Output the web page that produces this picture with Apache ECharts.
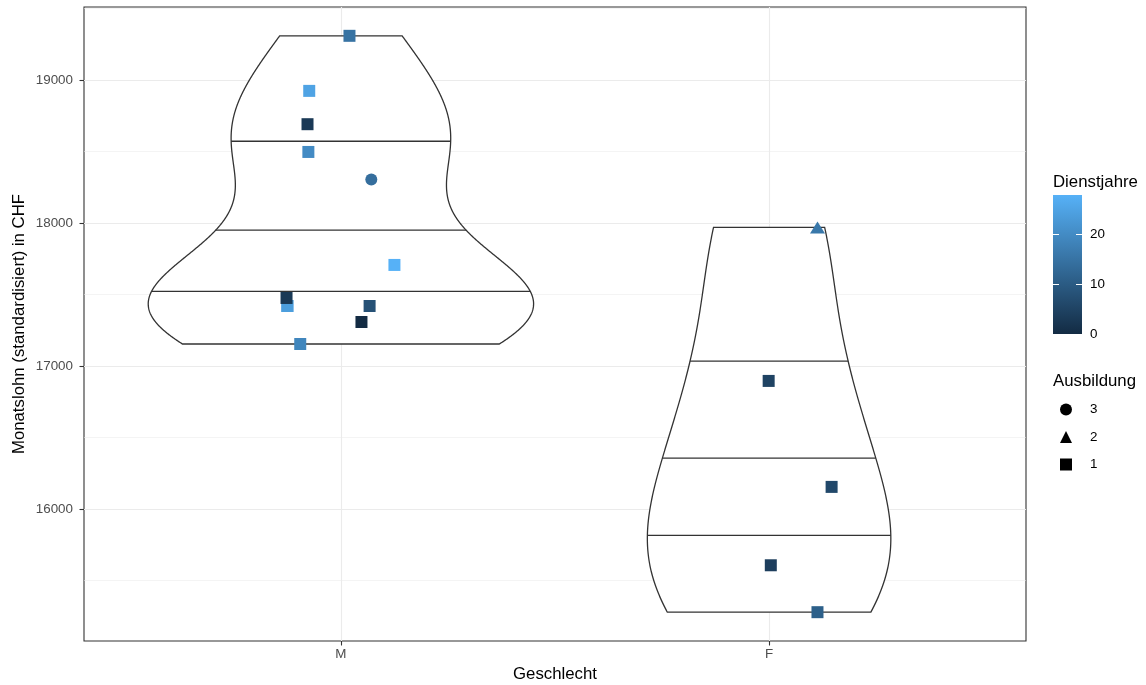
<!DOCTYPE html>
<html><head><meta charset="utf-8">
<script src="https://cdn.jsdelivr.net/npm/echarts@6/dist/echarts.min.js"></script>
<style>html,body{margin:0;padding:0;background:#fff}#chart{width:1146px;height:685px}</style>
</head><body><div id="chart"></div>
<script>
// ---- data ----
const categories = ['M', 'F'];
// M group (one point at 17421 is fully hidden under another, as the violin shape implies)
const lohnM = [19310, 18925, 18692, 18498, 18306, 17708, 17421, 17421, 17477, 17421, 17309, 17155];
const dienstM = [15, 25, 3, 20, 14, 28, 24, 24, 3, 8, 0, 19];
const ausbM = [1, 1, 1, 1, 3, 1, 1, 1, 1, 1, 1, 1];
const jitterM = [0.020, -0.074, -0.078, -0.076, 0.071, 0.125, -0.125, -0.125, -0.127, 0.067, 0.048, -0.095];
const lohnF = [17970, 16897, 16156, 15608, 15280];
const dienstF = [16, 5, 6, 4, 11];
const ausbF = [2, 1, 1, 1, 1];
const jitterF = [0.113, -0.001, 0.146, 0.004, 0.113];
const yTicks = [16000, 17000, 18000, 19000];
const yMinorTicks = [15500, 16500, 17500, 18500, 19500];
const colorTicks = [0, 10, 20];
const ausbLevels = ['3', '2', '1'];
const ausbSymbols = { '3': 'circle', '2': 'triangle', '1': 'rect' };
const quantileProbs = [0.25, 0.5, 0.75];

// ---- statistics (ggplot2 violin: gaussian KDE, bw.nrd0, trim, scale='area') ----
function quantile7(sorted, p) {
  const h = (sorted.length - 1) * p, lo = Math.floor(h), hi = Math.ceil(h);
  return sorted[lo] + (h - lo) * (sorted[hi] - sorted[lo]);
}
function bwNrd0(x) {
  const n = x.length, mean = x.reduce((a, b) => a + b, 0) / n;
  const sd = Math.sqrt(x.reduce((a, b) => a + (b - mean) * (b - mean), 0) / (n - 1));
  const s = x.slice().sort((a, b) => a - b);
  const iqr = quantile7(s, 0.75) - quantile7(s, 0.25);
  return 0.9 * Math.min(sd, iqr / 1.34) * Math.pow(n, -0.2);
}
function kde(x) {
  const bw = bwNrd0(x), n = x.length;
  const lo = Math.min(...x), hi = Math.max(...x), N = 512;
  const ys = [], ds = [];
  for (let i = 0; i < N; i++) {
    const y = lo + (hi - lo) * i / (N - 1);
    let d = 0;
    for (const xi of x) { const u = (y - xi) / bw; d += Math.exp(-0.5 * u * u); }
    ys.push(y); ds.push(d / (n * bw * Math.sqrt(2 * Math.PI)));
  }
  return { ys, ds };
}
const groups = [lohnM, lohnF].map(kde);
const maxD = Math.max(...groups.map(g => Math.max(...g.ds)));
const violins = groups.map((g, gi) => {
  const c = gi + 1;
  const hw = g.ds.map(d => 0.45 * d / maxD);
  const outline = [];
  for (let i = 0; i < g.ys.length; i++) outline.push([c + hw[i], g.ys[i]]);
  for (let i = g.ys.length - 1; i >= 0; i--) outline.push([c - hw[i], g.ys[i]]);
  const total = g.ds.reduce((a, b) => a + b, 0);
  let acc = 0; const cum = g.ds.map(d => (acc += d) / total);
  const segs = quantileProbs.map(p => {
    let k = 0; while (k < cum.length - 1 && cum[k + 1] < p) k++;
    const t = (p - cum[k]) / (cum[k + 1] - cum[k]);
    const y = g.ys[k] + t * (g.ys[k + 1] - g.ys[k]);
    const w = hw[k] + t * (hw[k + 1] - hw[k]);
    return [[c - w, y], [c + w, y]];
  });
  return { outline, segs };
});

const allY = lohnM.concat(lohnF);
const yLo = Math.min(...allY), yHi = Math.max(...allY), ySpan = yHi - yLo;
const yMin = yLo - 0.05 * ySpan, yMax = yHi + 0.05 * ySpan;
const dMax = Math.max(...dienstM, ...dienstF);

function pointsFor(level) {
  const out = [];
  [[lohnM, dienstM, ausbM, jitterM], [lohnF, dienstF, ausbF, jitterF]].forEach((g, gi) => {
    g[0].forEach((v, i) => { if (String(g[2][i]) === level) out.push([gi + 1 + g[3][i], v, g[1][i]]); });
  });
  return out;
}

const FONT = '"Liberation Sans", Arial, Helvetica, sans-serif';
const chart = echarts.init(document.getElementById('chart'), null, { renderer: 'canvas' });

const gridLineData = []
  .concat(yTicks.map(v => ({ yAxis: v, lineStyle: { color: '#EBEBEB', width: 1.1, type: 'solid' } })))
  .concat(yMinorTicks.filter(v => v < yMax).map(v => ({ yAxis: v, lineStyle: { color: '#EBEBEB', width: 0.55, type: 'solid' } })))
  .concat([1, 2].map(v => ({ xAxis: v, lineStyle: { color: '#EBEBEB', width: 1.1, type: 'solid' } })));

const scatterSeries = ausbLevels.map(level => ({
  name: level,
  type: 'scatter',
  xAxisIndex: 0, yAxisIndex: 0,
  symbol: ausbSymbols[level],
  symbolSize: level === '2' ? [15, 12] : 12,
  data: pointsFor(level),
  z: 4,
  itemStyle: { opacity: 1 }
}));

const option = {
  animation: false,
  backgroundColor: '#ffffff',
  textStyle: { fontFamily: FONT },
  grid: [
    { left: 84, top: 7, right: 120, bottom: 44, show: true, borderColor: '#333333', borderWidth: 1.1, backgroundColor: 'transparent', outerBoundsMode: 'none', containLabel: false },
    { left: 1053, top: 195, width: 29, height: 139, show: false, outerBoundsMode: 'none', containLabel: false }
  ],
  xAxis: [
    {
      gridIndex: 0, type: 'value', min: 0.4, max: 2.6,
      name: 'Geschlecht', nameLocation: 'middle', nameGap: 24,
      nameTextStyle: { fontSize: 16.8, color: '#000', fontFamily: FONT },
      axisLine: { show: false },
      axisTick: { show: true, length: 4.5, lineStyle: { color: '#333333', width: 1.1 }, customValues: [1, 2] },
      axisLabel: { customValues: [1, 2], formatter: v => categories[Math.round(v) - 1] || '', color: '#4D4D4D', fontSize: 13.4, margin: 7, fontFamily: FONT },
      splitLine: { show: false }
    },
    { gridIndex: 1, type: 'category', data: ['bar'], show: false, boundaryGap: true }
  ],
  yAxis: [
    {
      gridIndex: 0, type: 'value', min: yMin, max: yMax,
      name: 'Monatslohn (standardisiert) in CHF', nameLocation: 'middle', nameGap: 56, nameRotate: 90,
      nameMoveOverlap: false,
      nameTextStyle: { fontSize: 16.8, color: '#000', fontFamily: FONT },
      axisLine: { show: false },
      axisTick: { show: true, length: 4.5, lineStyle: { color: '#333333', width: 1.1 }, customValues: yTicks },
      axisLabel: { customValues: yTicks, formatter: v => String(v), color: '#4D4D4D', fontSize: 13.4, margin: 11, fontFamily: FONT },
      splitLine: { show: false }
    },
    {
      gridIndex: 1, type: 'value', min: 0, max: dMax, position: 'right', z: 5,
      axisLine: { show: false },
      axisTick: { show: true, inside: true, length: 6, lineStyle: { color: '#ffffff', width: 1 }, customValues: colorTicks },
      axisLabel: { customValues: colorTicks, formatter: v => String(v), color: '#000', fontSize: 13.4, margin: 8, fontFamily: FONT },
      splitLine: { show: false }
    },
    {
      gridIndex: 1, type: 'value', min: 0, max: dMax, position: 'left', z: 5,
      axisLine: { show: false },
      axisTick: { show: true, inside: true, length: 6, lineStyle: { color: '#ffffff', width: 1 }, customValues: colorTicks },
      axisLabel: { show: false },
      splitLine: { show: false }
    }
  ],
  visualMap: {
    type: 'continuous', show: false, dimension: 2, min: 0, max: dMax,
    seriesIndex: [2, 3, 4],
    inRange: { color: ['#132B43', '#56B1F7'] }
  },
  legend: {
    orient: 'vertical', left: 1055, top: 398,
    itemWidth: 12, itemHeight: 12, itemGap: 14.5,
    selectedMode: false,
    textStyle: { fontSize: 13.4, color: '#000', fontFamily: FONT, padding: [0, 0, 0, 13] },
    data: ausbLevels.map(l => ({ name: l, icon: ausbSymbols[l], itemStyle: { color: '#000' } }))
  },
  graphic: [
    { type: 'text', left: 1053, top: 174, style: { text: 'Dienstjahre', fontSize: 16.8, fontFamily: FONT, fill: '#000' } },
    { type: 'text', left: 1053, top: 373, style: { text: 'Ausbildung', fontSize: 16.8, fontFamily: FONT, fill: '#000' } }
  ],
  series: [
    {
      type: 'line', xAxisIndex: 0, yAxisIndex: 0, data: [], silent: true, z: 0,
      markLine: { silent: true, symbol: ['none', 'none'], label: { show: false }, z: 0, animation: false, data: gridLineData }
    },
    {
      type: 'custom', xAxisIndex: 0, yAxisIndex: 0, z: 2, silent: true,
      data: [[1, yLo], [2, yLo]],
      renderItem: function (params, api) {
        const v = violins[params.dataIndex];
        const children = [{
          type: 'polygon',
          shape: { points: v.outline.map(p => api.coord(p)) },
          style: { fill: '#ffffff', stroke: '#333333', lineWidth: 1.3 }
        }];
        v.segs.forEach(s => {
          const a = api.coord(s[0]), b = api.coord(s[1]);
          children.push({ type: 'line', shape: { x1: a[0], y1: a[1], x2: b[0], y2: b[1] }, style: { stroke: '#333333', lineWidth: 1.3 } });
        });
        return { type: 'group', children };
      }
    }
  ].concat(scatterSeries).concat([
    {
      type: 'bar', xAxisIndex: 1, yAxisIndex: 1, data: [dMax], barWidth: '100%', silent: true, z: 2,
      itemStyle: { color: { type: 'linear', x: 0, y: 1, x2: 0, y2: 0, colorStops: [{ offset: 0, color: '#132B43' }, { offset: 1, color: '#56B1F7' }] } }
    }
  ])
};
chart.setOption(option);
</script>
</body></html>
